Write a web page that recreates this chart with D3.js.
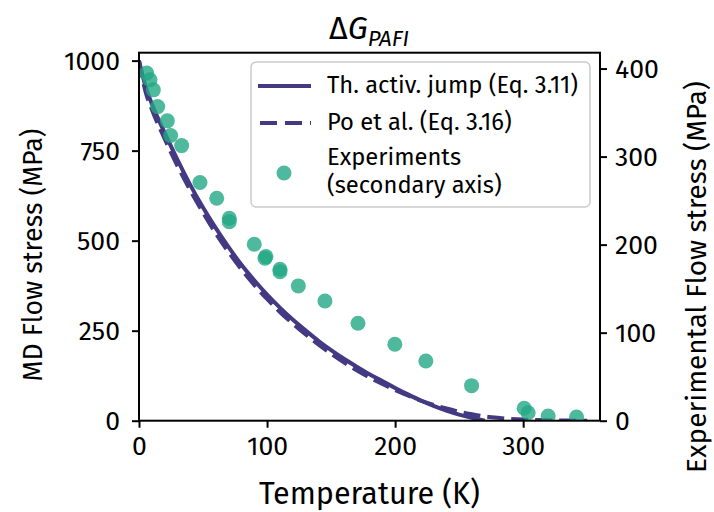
<!DOCTYPE html>
<html><head><meta charset="utf-8">
<script src="https://cdn.jsdelivr.net/npm/d3@7"></script>
<style>
body{margin:0;background:#fff;}
text{font-family:"Fira Sans","Noto Sans","Open Sans",sans-serif;}
</style></head><body>
<svg id="c" width="714" height="512"></svg>
<script>
// ---- data ----
const thTemps = [0,5,10,20,30,40,50,60,70,80,90,100,110,120,130,140,150,160,170,180,190,200,210,220,230,240,250,260,265,270];
const thStress = [1000,930,880,800,725,655,592,535,482,433,390,350,314,281,251,222,196,172,150,129,110,91,73,56,41,28,17,8,4,0];
const poTemps = [0,5,10,20,30,40,50,60,70,80,90,100,110,120,130,140,150,160,170,180,190,200,210,220,230,240,250,260,270,280,290,300,310,320,335,350];
const poStress = [1000,915,865,783,708,640,578,520,468,420,377,338,302,270,240,212,186,162,140,120,102,85,70,56,44,34,25,18,12,8,5,3,2,1,0.5,0];
const expTemps = [6.0,8.6,11.2,14.6,22.1,24.7,33.3,47.6,60.7,70.5,70.5,90.0,99.1,98.4,110.1,110.1,124.4,145.2,171.0,199.8,224.0,259.7,300.8,303.9,319.5,341.7];
const expStress = [394.8,387.2,375.8,356.8,340.6,323.9,312.5,270.5,252.7,230.0,226.1,200.5,186.4,184.5,172.0,169.3,153.1,136.0,110.7,86.8,67.8,39.8,14.1,9.1,5.3,4.2];
const xTicks = [0,100,200,300];
const yLeftTicks = [0,250,500,750,1000];
const yRightTicks = [0,100,200,300,400];
const legendLabels = ["Th. activ. jump (Eq. 3.11)","Po et al. (Eq. 3.16)","Experiments","(secondary axis)"];

const lineColor = "#443983", dotColor = "#22a884";
const svg = d3.select("#c");
const L=139, R=600, T=52.7, B=420.7;
const x = d3.scaleLinear().domain([0,360]).range([L,R]);
const yL = d3.scaleLinear().domain([0,1022]).range([B,T]);
const yR = d3.scaleLinear().domain([0,418]).range([B,T]);

function fit(sel, w){
  const n = sel.node(); const fs = +sel.attr("font-size");
  const len = n.getComputedTextLength();
  sel.attr("font-size", fs*w/len);
  return fs*w/len;
}

svg.append("clipPath").attr("id","clp").append("rect").attr("x",L).attr("y",T).attr("width",R-L).attr("height",B-T);
const g = svg.append("g").attr("clip-path","url(#clp)");

const line = d3.line().x(d=>x(d[0])).y(d=>yL(d[1])).curve(d3.curveMonotoneX);
g.append("path").datum(thTemps.map((t,i)=>[t,thStress[i]])).attr("d",line)
  .attr("fill","none").attr("stroke",lineColor).attr("stroke-width",4);
g.append("path").datum(poTemps.map((t,i)=>[t,poStress[i]])).attr("d",line)
  .attr("fill","none").attr("stroke",lineColor).attr("stroke-width",4).attr("stroke-dasharray","17,7");

g.selectAll("circle.e").data(expTemps.map((t,i)=>[t,expStress[i]])).enter().append("circle")
  .attr("cx",d=>x(d[0])).attr("cy",d=>yR(d[1])).attr("r",7.5)
  .attr("fill",dotColor).attr("fill-opacity",0.8);

const probe = svg.append("text").attr("font-size",20).text("1000");
const tickFs = fit(probe, 56); probe.remove();

function styleAxis(sel){
  sel.select(".domain").remove();
  sel.selectAll(".tick line").attr("stroke","#000").attr("stroke-width",2);
  sel.selectAll(".tick text").attr("font-size",tickFs).attr("fill","#000");
}
const fmt = d3.format("d");
svg.append("g").attr("transform",`translate(0,${B})`)
  .call(d3.axisBottom(x).tickValues(xTicks).tickFormat(fmt).tickSize(7).tickPadding(8)).call(styleAxis);
svg.append("g").attr("transform",`translate(${L},0)`)
  .call(d3.axisLeft(yL).tickValues(yLeftTicks).tickFormat(fmt).tickSize(7).tickPadding(12)).call(styleAxis);
svg.append("g").attr("transform",`translate(${R},0)`)
  .call(d3.axisRight(yR).tickValues(yRightTicks).tickFormat(fmt).tickSize(7).tickPadding(8)).call(styleAxis);

svg.append("rect").attr("x",L).attr("y",T).attr("width",R-L).attr("height",B-T)
  .attr("fill","none").attr("stroke","#000").attr("stroke-width",2);

fit(svg.append("text").attr("x",369.5).attr("y",504).attr("text-anchor","middle").attr("font-size",23).text("Temperature (K)"), 221);
fit(svg.append("text").attr("transform",`translate(42,255) rotate(-90)`).attr("text-anchor","middle").attr("font-size",23).text("MD Flow stress (MPa)"), 253);
fit(svg.append("text").attr("transform",`translate(706,277) rotate(-90)`).attr("text-anchor","middle").attr("font-size",23).text("Experimental Flow stress (MPa)"), 392);

const title = svg.append("text").attr("x",369).attr("y",39).attr("text-anchor","middle").attr("font-size",23);
title.append("tspan").text("Δ");
title.append("tspan").attr("font-style","italic").text("G");
title.append("tspan").attr("font-style","italic").attr("font-size",16).attr("dy",5).text("PAFI");
const tw = title.node().getComputedTextLength();
const sc = 80/tw;
title.attr("font-size",23*sc);
title.selectAll("tspan").filter((d,i)=>i===2).attr("font-size",16*sc).attr("dy",5*sc);

const lg = svg.append("g");
lg.append("rect").attr("x",251).attr("y",62).attr("width",339).attr("height",145).attr("rx",5)
  .attr("fill","#fff").attr("fill-opacity",0.8).attr("stroke","#cccccc").attr("stroke-width",1.5);
lg.append("line").attr("x1",258).attr("x2",311).attr("y1",86).attr("y2",86).attr("stroke",lineColor).attr("stroke-width",4);
lg.append("line").attr("x1",260).attr("x2",311).attr("y1",123).attr("y2",123).attr("stroke",lineColor).attr("stroke-width",4).attr("stroke-dasharray","17,8");
lg.append("circle").attr("cx",284).attr("cy",173).attr("r",7.5).attr("fill",dotColor).attr("fill-opacity",0.8);
const ly=[93,130,165,193];
const t0 = lg.append("text").attr("x",327).attr("y",ly[0]).attr("font-size",19).text(legendLabels[0]);
const legFs = fit(t0, 251);
legendLabels.slice(1).forEach((t,i)=>lg.append("text").attr("x",327).attr("y",ly[i+1]).attr("font-size",legFs).text(t));
</script></body></html>
